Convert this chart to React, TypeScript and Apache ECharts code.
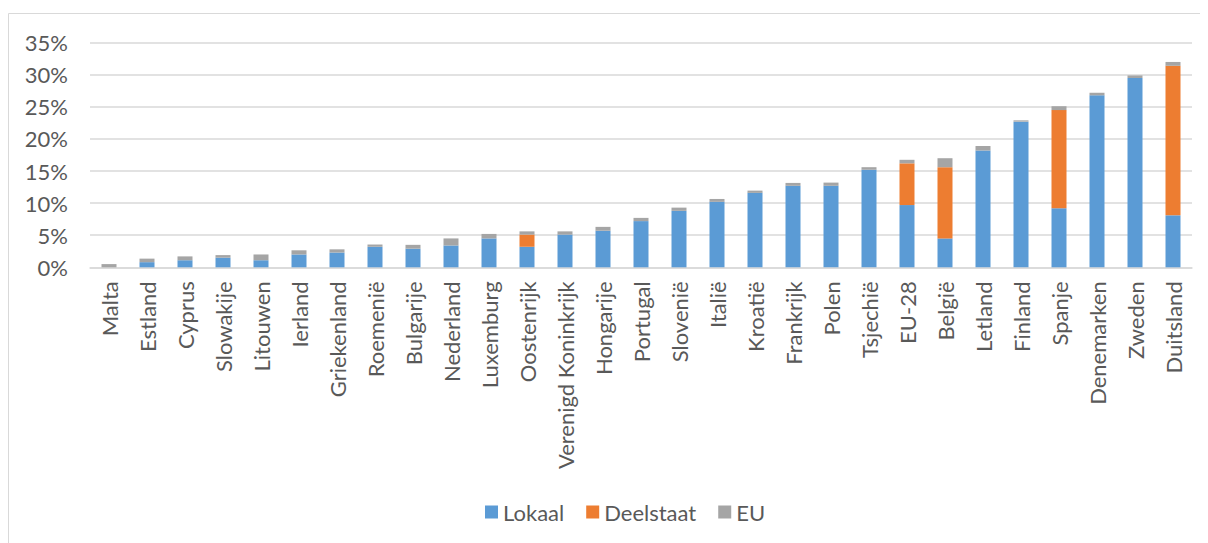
import React, { useEffect, useRef } from "react";
import * as echarts from "echarts";

const categories = [
  "Malta", "Estland", "Cyprus", "Slowakije", "Litouwen", "Ierland", "Griekenland",
  "Roemenië", "Bulgarije", "Nederland", "Luxemburg", "Oostenrijk", "Verenigd Koninkrijk",
  "Hongarije", "Portugal", "Slovenië", "Italië", "Kroatië", "Frankrijk", "Polen",
  "Tsjechië", "EU-28", "België", "Letland", "Finland", "Spanje", "Denemarken", "Zweden", "Duitsland",
];

const lokaal = [
  0, 0.8, 1.1, 1.5, 1.1, 2.0, 2.3, 3.2, 2.9, 3.4, 4.5, 3.2, 5.1, 5.7, 7.2, 8.8, 10.2, 11.6,
  12.7, 12.7, 15.2, 9.7, 4.5, 18.2, 22.7, 9.2, 26.8, 29.5, 8.1,
];
const deelstaat = [
  0, 0, 0, 0, 0, 0, 0, 0, 0, 0, 0, 1.9, 0, 0, 0, 0, 0, 0,
  0, 0, 0, 6.5, 11.1, 0, 0, 15.3, 0, 0, 23.3,
];
const eu = [
  0.5, 0.55, 0.6, 0.4, 0.9, 0.65, 0.5, 0.35, 0.6, 1.1, 0.7, 0.5, 0.5, 0.6, 0.5, 0.5, 0.45, 0.35,
  0.45, 0.5, 0.4, 0.55, 1.4, 0.7, 0.2, 0.6, 0.4, 0.4, 0.6,
];

const seriesNames = ["Lokaal", "Deelstaat", "EU"];
const colors = ["#5B9BD5", "#ED7D31", "#A5A5A5"];

export default function App() {
  const ref = useRef<HTMLDivElement>(null);
  useEffect(() => {
    if (!ref.current) return;
    const chart = echarts.init(ref.current, undefined, { renderer: "svg" });
    const font = "Lato, 'Open Sans', sans-serif";
    const mk = (name: string, data: number[], color: string) => ({
      name,
      type: "bar",
      stack: "total",
      data,
      barWidth: 15,
      itemStyle: { color },
    });
    chart.setOption({
      animation: false,
      graphic: [
        {
          type: "rect",
          shape: { x: 0.5, y: 5.5, width: 1400, height: 800 },
          style: { fill: "none", stroke: "#D9D9D9", lineWidth: 1 },
          silent: true,
        },
      ],
      legend: {
        data: seriesNames,
        top: 488,
        left: 472,
        itemWidth: 13,
        itemHeight: 13,
        itemGap: 22,
        icon: "rect",
        textStyle: { fontFamily: font, fontSize: 22, color: "#595959" },
      },
      grid: { left: 82, top: 34.7, width: 1102, height: 224.6 },
      xAxis: {
        type: "category",
        data: categories,
        axisLine: { lineStyle: { color: "#D9D9D9", width: 1.5 } },
        axisTick: { show: false },
        axisLabel: {
          rotate: 90,
          interval: 0,
          margin: 14,
          fontFamily: font,
          fontSize: 22,
          color: "#595959",
        },
      },
      yAxis: {
        type: "value",
        min: 0,
        max: 35,
        interval: 5,
        axisLine: { show: false },
        axisTick: { show: false },
        splitLine: { lineStyle: { color: "#D9D9D9", width: 1.5 } },
        axisLabel: {
          formatter: "{value}%",
          margin: 22,
          fontFamily: font,
          fontSize: 22,
          color: "#595959",
        },
      },
      series: [
        mk(seriesNames[0], lokaal, colors[0]),
        mk(seriesNames[1], deelstaat, colors[1]),
        mk(seriesNames[2], eu, colors[2]),
      ],
    });
    return () => chart.dispose();
  }, []);
  return <div ref={ref} style={{ width: 1200, height: 535 }} />;
}
